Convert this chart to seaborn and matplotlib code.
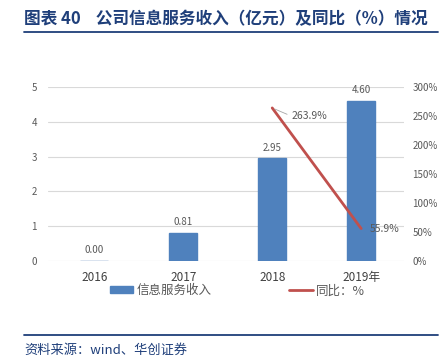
import numpy as np
import pandas as pd
import matplotlib
matplotlib.use("Agg")
import matplotlib.pyplot as plt
import seaborn as sns
from matplotlib.lines import Line2D
from matplotlib.patches import Patch

years = ["2016", "2017", "2018", "2019年"]
revenue = [0.00, 0.81, 2.95, 4.60]
yoy = [np.nan, np.nan, 263.9, 55.9]
title = "图表 40    公司信息服务收入（亿元）及同比（%）情况"
source = "资料来源：wind、华创证券"

sns.set_theme(style="white")
plt.rcParams['font.family'] = ['Noto Sans CJK SC', 'DejaVu Sans']

BLUE = "#4F81BD"
RED = "#C0504D"
GRAY = "#595959"
NAVY = "#1F3F7A"

fig = plt.figure(figsize=(4.46, 3.59), dpi=100)
ax = fig.add_axes([0.1076, 0.273, 0.798, 0.4847])

df = pd.DataFrame({"year": years, "revenue": revenue, "yoy": yoy})
sns.barplot(data=df, x="year", y="revenue", color=BLUE, width=0.32, ax=ax,
            saturation=1, edgecolor=BLUE)
ax.set_ylim(0, 5)
ax.set_xlim(-0.52, 3.48)
ax.set_yticks(range(0, 6))
ax.yaxis.grid(True, color="#D9D9D9", linewidth=0.8)
ax.set_axisbelow(True)
for s in ax.spines.values():
    s.set_visible(False)
ax.set_xlabel("")
ax.set_ylabel("")
ax.tick_params(axis="y", colors=GRAY, labelsize=7, length=0, pad=8)
ax.tick_params(axis="x", colors=GRAY, labelsize=8.5, length=0, pad=7)
for lab in ax.get_xticklabels():
    lab.set_color("#404040")

for i, v in enumerate(revenue):
    ax.annotate(f"{v:.2f}", (i, v), xytext=(0, 4), textcoords="offset points",
                ha="center", va="bottom", fontsize=7, color=GRAY)

ax2 = ax.twinx()
xpos = np.arange(len(years))
sns.lineplot(x=xpos, y=df["yoy"].values, color=RED, linewidth=2, ax=ax2)
ax2.set_ylim(0, 300)
ax2.set_yticks(range(0, 301, 50))
ax2.set_yticklabels([f"{t}%" for t in range(0, 301, 50)])
ax2.tick_params(axis="y", colors=GRAY, labelsize=7, length=0, pad=6)
for s in ax2.spines.values():
    s.set_visible(False)
ax2.set_ylabel("")

# line labels
ax2.annotate(f"{yoy[2]:.1f}%", (2, yoy[2]), xytext=(14, -6), textcoords="offset points",
             ha="left", va="center", fontsize=7.5, color=GRAY,
             arrowprops=dict(arrowstyle="-", color="#A6A6A6", lw=0.6,
                             relpos=(0, 0.5), shrinkA=1, shrinkB=2))
ax2.annotate(f"{yoy[3]:.1f}%", (3, yoy[3]), xytext=(6, 0), textcoords="offset points",
             ha="left", va="center", fontsize=7.5, color=GRAY)

handles = [Patch(facecolor=BLUE, edgecolor=BLUE), Line2D([0], [0], color=RED, lw=2)]
fig.legend(handles, ["信息服务收入", "同比：%"], loc="center", bbox_to_anchor=(0.532, 0.19),
           ncol=2, frameon=False, fontsize=9, labelcolor=GRAY, columnspacing=6.2,
           handlelength=1.9, handleheight=0.5, handletextpad=0.25)

fig.text(0.054, 0.948, title, fontsize=12, fontweight="bold", color=NAVY,
         ha="left", va="center")
fig.add_artist(Line2D([0.054, 0.982], [1 - 32/359, 1 - 32/359], color=NAVY, lw=1.3))
fig.add_artist(Line2D([0.054, 0.982], [1 - 335/359, 1 - 335/359], color=NAVY, lw=1.3))
fig.text(0.054, 1 - 350/359, source, fontsize=9.5, style="italic", color=NAVY,
         ha="left", va="center")

fig.savefig("out.png", dpi=100)
